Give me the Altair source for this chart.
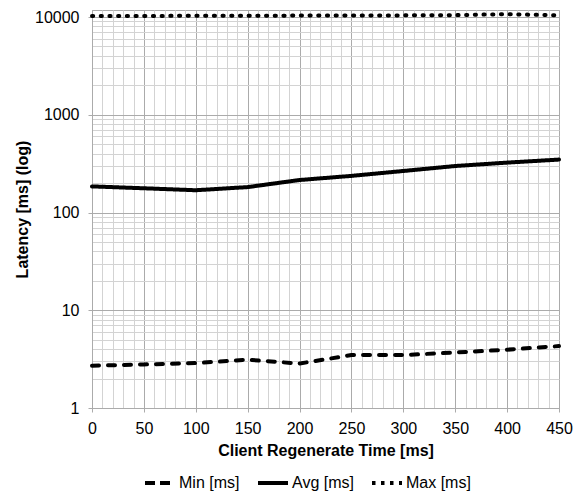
import altair as alt
import pandas as pd

x_vals = [0, 50, 100, 150, 200, 250, 300, 350, 400, 450]
min_vals = [2.71, 2.79, 2.88, 3.12, 2.85, 3.48, 3.48, 3.70, 3.95, 4.30]
avg_vals = [185, 177, 169, 182, 215, 237, 266, 299, 324, 348]
max_vals = [10250, 10250, 10300, 10300, 10350, 10350, 10400, 10450, 10700, 10400]
series = ["Min [ms]", "Avg [ms]", "Max [ms]"]

x_grid = list(range(0, 451, 10))
y_grid = [m * 10 ** e for e in range(0, 4) for m in range(1, 10)] + [10000]

rows = []
for name, vals in zip(series, [min_vals, avg_vals, max_vals]):
    for xv, yv in zip(x_vals, vals):
        rows.append({"t": xv, "v": yv, "s": name})
df = pd.DataFrame(rows)

MAJOR = "#ababab"
MINOR = "#d3d3d3"
FONT = "Liberation Sans"

x_major_test = "datum.value % 50 == 0"
y_major_test = "indexof([1,10,100,1000,10000], datum.value) >= 0"

x_enc = alt.X(
    "t:Q",
    scale=alt.Scale(domain=[0, 450], nice=False, zero=False),
    axis=alt.Axis(
        values=x_grid,
        title="Client Regenerate Time [ms]",
        labelExpr=f"{x_major_test} ? datum.label : ''",
        gridColor={"condition": {"test": x_major_test, "value": MAJOR}, "value": MINOR},
        tickOpacity={"condition": {"test": x_major_test, "value": 1}, "value": 0},
        tickSize=4,
        labelPadding=8,
        titlePadding=6,
        labelOverlap=False,
        labelFlush=False,
    ),
)
y_enc = alt.Y(
    "v:Q",
    scale=alt.Scale(type="log", domain=[1, 11800], nice=False),
    axis=alt.Axis(
        values=y_grid,
        format="d",
        title="Latency [ms] (log)",
        labelExpr=f"{y_major_test} ? datum.label : ''",
        gridColor={"condition": {"test": y_major_test, "value": MAJOR}, "value": MINOR},
        tickOpacity={"condition": {"test": y_major_test, "value": 1}, "value": 0},
        tickSize=4,
        labelPadding=9,
        titlePadding=4,
        labelOverlap=False,
        labelFlush=False,
    ),
)

lines = alt.Chart(df).mark_line(
    color="black", strokeWidth=4, strokeCap="round", strokeJoin="round"
).encode(
    x=x_enc,
    y=y_enc,
    strokeDash=alt.StrokeDash(
        "s:N",
        scale=alt.Scale(domain=series, range=[[7, 9], [1, 0], [1.2, 7.5]]),
        legend=None,
    ),
)

legend_layer = alt.Chart(df).mark_line(color="black", strokeWidth=4).encode(
    x=x_enc,
    y=y_enc,
    strokeDash=alt.StrokeDash(
        "s:N",
        scale=alt.Scale(domain=series, range=[[10, 5], [1, 0], [3.5, 5.5]]),
        legend=alt.Legend(
            title=None,
            orient="none",
            legendX=51,
            legendY=456,
            direction="horizontal",
            symbolType="stroke",
            symbolSize=900,
            symbolStrokeWidth=4,
            symbolStrokeColor="black",
            labelFont=FONT,
            labelFontSize=16,
            labelColor="black",
            labelOffset=2,
            columnPadding=10,
        ),
    ),
).transform_filter("false")

chart = alt.layer(lines, legend_layer).resolve_scale(
    strokeDash="independent"
).properties(
    width=467,
    height=398,
    autosize=alt.AutoSizeParams(type="none"),
    padding={"left": 92, "top": 10, "right": 21, "bottom": 87},
).configure_view(
    stroke=MAJOR
).configure_axis(
    labelFont=FONT,
    titleFont=FONT,
    labelFontSize=16,
    titleFontSize=16,
    titleFontWeight="bold",
    labelColor="black",
    titleColor="black",
    tickColor=MAJOR,
    domainColor=MAJOR,
    gridOpacity=1,
)

chart.save("out.html", embed_options={"renderer": "svg", "actions": False})
